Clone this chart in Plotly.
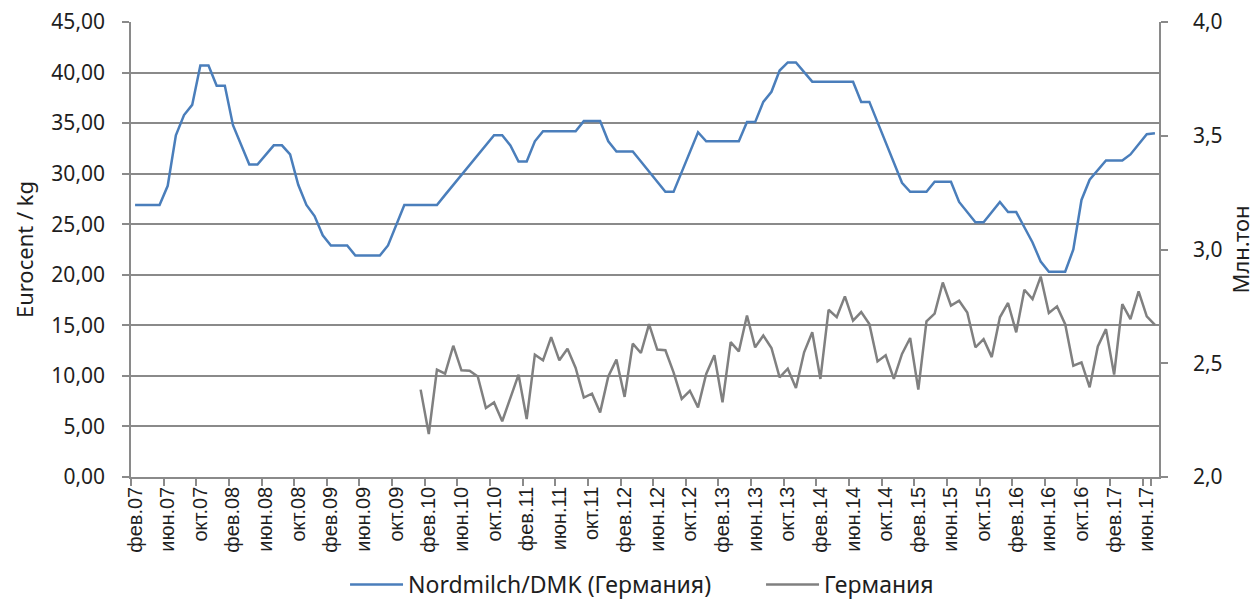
import plotly.graph_objects as go

# ---- data ----
MONTH_NAMES = ['янв', 'фев', 'мар', 'апр', 'май', 'июн', 'июл', 'авг', 'сен', 'окт', 'ноя', 'дек']
START_YEAR = 2007
START_MONTH = 1  # index into MONTH_NAMES -> фев
N_MONTHS = 126   # фев.07 .. июл.17

categories = []
for k in range(N_MONTHS):
    m = (START_MONTH + k) % 12
    y = START_YEAR + (START_MONTH + k) // 12
    categories.append(f"{MONTH_NAMES[m]}.{y % 100:02d}")

# Nordmilch/DMK price, Eurocent/kg (left axis)
dmk_price = [
    26.9, 26.9, 26.9, 26.9, 28.8, 33.8, 35.8, 36.8, 40.7, 40.7,
    38.7, 38.7, 34.8, 32.8, 30.9, 30.9, 31.9, 32.8, 32.8, 31.9,
    28.9, 26.9, 25.8, 23.9, 22.9, 22.9, 22.9, 21.9, 21.9, 21.9,
    21.9, 22.9, 24.9, 26.9, 26.9, 26.9, 26.9, 26.9, 27.9, 28.9,
    29.9, 30.9, 31.9, 32.8, 33.8, 33.8, 32.8, 31.2, 31.2, 33.2,
    34.2, 34.2, 34.2, 34.2, 34.2, 35.2, 35.2, 35.2, 33.2, 32.2,
    32.2, 32.2, 31.2, 30.2, 29.2, 28.2, 28.2, 30.2, 32.1, 34.1,
    33.2, 33.2, 33.2, 33.2, 33.2, 35.1, 35.1, 37.1, 38.1, 40.2,
    41.0, 41.0, 40.1, 39.1, 39.1, 39.1, 39.1, 39.1, 39.1, 37.1,
    37.1, 35.1, 33.1, 31.1, 29.1, 28.2, 28.2, 28.2, 29.2, 29.2,
    29.2, 27.2, 26.2, 25.2, 25.2, 26.2, 27.2, 26.2, 26.2, 24.7,
    23.2, 21.3, 20.3, 20.3, 20.3, 22.5, 27.4, 29.4, 30.4, 31.3,
    31.3, 31.3, 31.9, 32.9, 33.9, 34.0,
]

# Germany milk deliveries, mln t (right axis), starts янв.10
germany_start_index = 35
germany_volume = [
    2.384, 2.189, 2.472, 2.454, 2.577, 2.469, 2.467, 2.442, 2.303, 2.328,
    2.245, 2.352, 2.450, 2.255, 2.538, 2.513, 2.615, 2.513, 2.564, 2.479,
    2.349, 2.366, 2.284, 2.442, 2.516, 2.352, 2.586, 2.545, 2.672, 2.560,
    2.557, 2.460, 2.343, 2.379, 2.306, 2.453, 2.535, 2.328, 2.593, 2.552,
    2.710, 2.570, 2.622, 2.567, 2.438, 2.476, 2.391, 2.548, 2.636, 2.431,
    2.735, 2.703, 2.794, 2.687, 2.725, 2.672, 2.508, 2.535, 2.431, 2.541,
    2.611, 2.384, 2.684, 2.718, 2.855, 2.753, 2.775, 2.723, 2.570, 2.606,
    2.527, 2.702, 2.765, 2.636, 2.823, 2.782, 2.881, 2.721, 2.750, 2.672,
    2.489, 2.504, 2.394, 2.574, 2.650, 2.450, 2.760, 2.694, 2.816, 2.706,
    2.669,
]
germany_categories = categories[germany_start_index:germany_start_index + len(germany_volume)]

tick_labels = categories[::4]

series_names = ['Nordmilch/DMK (Германия)', 'Германия']

# ---- figure ----
GRID = '#8a8a8a'
TXT = '#1e1e1e'
FONT = 'Noto Sans'

fig = go.Figure()
fig.add_trace(go.Scatter(
    x=categories, y=dmk_price, name=series_names[0], mode='lines',
    line=dict(color='#4a7ebb', width=2.5), yaxis='y',
))
fig.add_trace(go.Scatter(
    x=germany_categories, y=germany_volume, name=series_names[1], mode='lines',
    line=dict(color='#808080', width=2.5), yaxis='y2',
))

fig.update_layout(
    width=1257, height=606,
    margin=dict(l=131, r=98, t=22, b=129, autoexpand=False),
    plot_bgcolor='white', paper_bgcolor='white',
    separators=', ',
    font=dict(family=FONT, size=22, color=TXT),
    showlegend=True,
    legend=dict(orientation='h', x=(345 - 131) / 1027.8, xanchor='left', yref='container',
                y=0, yanchor='bottom', font=dict(size=23, family=FONT, color=TXT),
                itemwidth=53, entrywidth=348, entrywidthmode='pixels',
                tracegroupgap=0, bgcolor='rgba(0,0,0,0)'),
    xaxis=dict(
        type='category', categoryorder='array', categoryarray=categories,
        range=[-0.5, N_MONTHS - 0.5], automargin=False,
        tickmode='array', tickvals=tick_labels, ticktext=tick_labels,
        tickson='boundaries', ticks='outside', ticklen=7, tickcolor=GRID, tickwidth=1.5,
        tickangle=-90, tickfont=dict(family='Liberation Sans', size=20, color=TXT),
        showline=True, linecolor=GRID, linewidth=1.5, showgrid=False, zeroline=False,
    ),
    yaxis=dict(
        range=[0, 45], dtick=5, tick0=0, tickformat='.2f', automargin=False,
        showgrid=True, gridcolor=GRID, gridwidth=2,
        showline=True, linecolor=GRID, linewidth=1.5,
        ticks='outside', ticklen=7, tickcolor=GRID, tickwidth=1.5,
        ticklabelstandoff=13, zeroline=False,
        tickfont=dict(family=FONT, size=21, color=TXT),
        title=dict(text='Eurocent / kg', font=dict(family=FONT, size=22, color=TXT), standoff=12),
    ),
    yaxis2=dict(
        range=[2, 4], dtick=0.5, tick0=2, tickformat='.1f', automargin=False,
        overlaying='y', side='right', showgrid=False,
        showline=True, linecolor=GRID, linewidth=1.5,
        ticks='outside', ticklen=7, tickcolor=GRID, tickwidth=1.5,
        ticklabelstandoff=21, zeroline=False,
        tickfont=dict(family=FONT, size=21, color=TXT),
        title=dict(text='Млн.тон', font=dict(family=FONT, size=22, color=TXT), standoff=12),
    ),
)

fig.write_html('out.html', config={'displayModeBar': False},
               post_script="document.body.style.margin='0';")
